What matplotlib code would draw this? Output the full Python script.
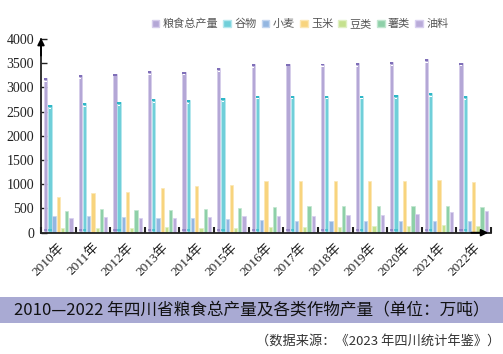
import matplotlib
matplotlib.use("Agg")
import matplotlib.pyplot as plt
import numpy as np

years = ["2010年", "2011年", "2012年", "2013年", "2014年", "2015年", "2016年",
         "2017年", "2018年", "2019年", "2020年", "2021年", "2022年"]
series_names = ["粮食总产量", "谷物", "小麦", "玉米", "豆类", "薯类", "油料"]
total = [3190, 3250, 3280, 3340, 3325, 3400, 3483, 3489, 3494, 3499, 3527, 3582, 3511]
cereal = [2638, 2673, 2700, 2762, 2742, 2783, 2830, 2830, 2830, 2830, 2845, 2886, 2824]
wheat = [351, 339, 318, 310, 297, 283, 262, 248, 248, 248, 248, 248, 248]
corn = [744, 820, 834, 923, 958, 992, 1068, 1068, 1068, 1068, 1068, 1089, 1047]
beans = [97, 90, 104, 111, 104, 104, 111, 111, 124, 138, 138, 159, 138]
tubers = [448, 483, 469, 476, 490, 510, 531, 552, 552, 552, 559, 559, 538]
oil = [297, 318, 310, 310, 324, 345, 345, 351, 366, 366, 393, 428, 442]
yticks = [0, 500, 1000, 1500, 2000, 2500, 3000, 3500, 4000]

colors = ["#b4a7d6", "#70cfd9", "#93b6e1", "#f8d47e", "#c5e18e", "#8ed0a8", "#b9abd9"]
edges = ["#d6cdeb", "#b5e8ee", "#c3d6f0", "#fbe7b5", "#e0f0c4", "#c1e6cf", "#d8cff0"]
caps = ["#7f6fb8", "#2fb7c7"]

fig = plt.figure(figsize=(5.03, 3.54), dpi=100)
ax = fig.add_axes([41/503, (354-232.7)/354, (491-41)/503, (232.7-39)/354])

data = [total, cereal, wheat, corn, beans, tubers, oil]
n = len(years)
x = np.arange(n) + 0.5
step = 0.122
w = 0.095
for k, vals in enumerate(data):
    xs = x + (k - 3) * step
    ax.bar(xs, vals, width=w, color=colors[k], edgecolor=edges[k], linewidth=0.5, zorder=2)
    if k < 2:
        v = np.array(vals)
        ax.bar(xs, [40]*n, bottom=v-40, width=w, color=caps[k], linewidth=0, zorder=3)
        ax.bar(xs, [18]*n, bottom=v-75, width=w*0.7, color="white", linewidth=0, zorder=3)
        ax.bar(xs, [25]*n, bottom=[45]*n, width=w, color=caps[k], alpha=0.6, linewidth=0, zorder=3)

ax.set_xlim(0, n)
ax.set_ylim(0, 4000)
for s in ["top", "right"]:
    ax.spines[s].set_visible(False)
for s in ["left", "bottom"]:
    ax.spines[s].set_linewidth(1.3)
    ax.spines[s].set_color("#222222")

ax.set_yticks(yticks)
ax.set_yticklabels([str(t) for t in yticks], fontfamily="Liberation Serif", fontsize=10, color="#222222")
ax.tick_params(axis="y", direction="in", length=4, width=1, pad=5, color="#222222")

ax.set_xticks(np.arange(0, n + 1))
ax.set_xticklabels([])
ax.tick_params(axis="x", which="major", direction="in", length=4, width=1.5, color="#222222")
ax.set_xticks(x, minor=True)
ax.set_xticklabels(years, minor=True, rotation=45, ha="right", va="top",
                   rotation_mode="anchor", fontsize=9.5,
                   fontfamily=["Liberation Serif", "Noto Sans CJK SC"], color="#222222")
ax.tick_params(axis="x", which="minor", length=0, pad=6)

# axis arrows
ax.annotate("", xy=(0, 1.02), xytext=(0, 0.9), xycoords="axes fraction",
            arrowprops=dict(arrowstyle="-|>", color="black", lw=1.3, mutation_scale=10))
ax.annotate("", xy=(1.0, 0), xytext=(0.95, 0), xycoords="axes fraction",
            arrowprops=dict(arrowstyle="-|>", color="black", lw=1.3, mutation_scale=10))

# legend
from matplotlib.patches import Patch
handles = [Patch(facecolor=c, edgecolor=e) for c, e in zip(colors, edges)]
leg = fig.legend(handles, series_names, loc="center", bbox_to_anchor=(300/503, 1-24/354),
                 ncol=7, frameon=False, handlelength=0.7, handleheight=0.7,
                 handletextpad=0.3, columnspacing=0.45,
                 prop={"family": "Noto Sans CJK SC", "size": 8})
for t in leg.get_texts():
    t.set_color("#555555")

# title banner
fig.patches.append(plt.Rectangle((0, 1-323.3/354), 1, (323.3-296.7)/354,
                                 transform=fig.transFigure, facecolor="#a9aad3",
                                 edgecolor="none", zorder=0))
fig.text(252/503, 1-310/354, "2010—2022 年四川省粮食总产量及各类作物产量（单位：万吨）",
         ha="center", va="center", fontsize=12, family=["Noto Sans CJK SC", "DejaVu Sans"],
         color="#111111")
fig.text(500/503, 1-341/354, "（数据来源：《2023 年四川统计年鉴》）",
         ha="right", va="center", fontsize=9.5, family=["Noto Sans CJK SC", "DejaVu Sans"],
         color="#333333")

fig.savefig("out.png", dpi=100)
